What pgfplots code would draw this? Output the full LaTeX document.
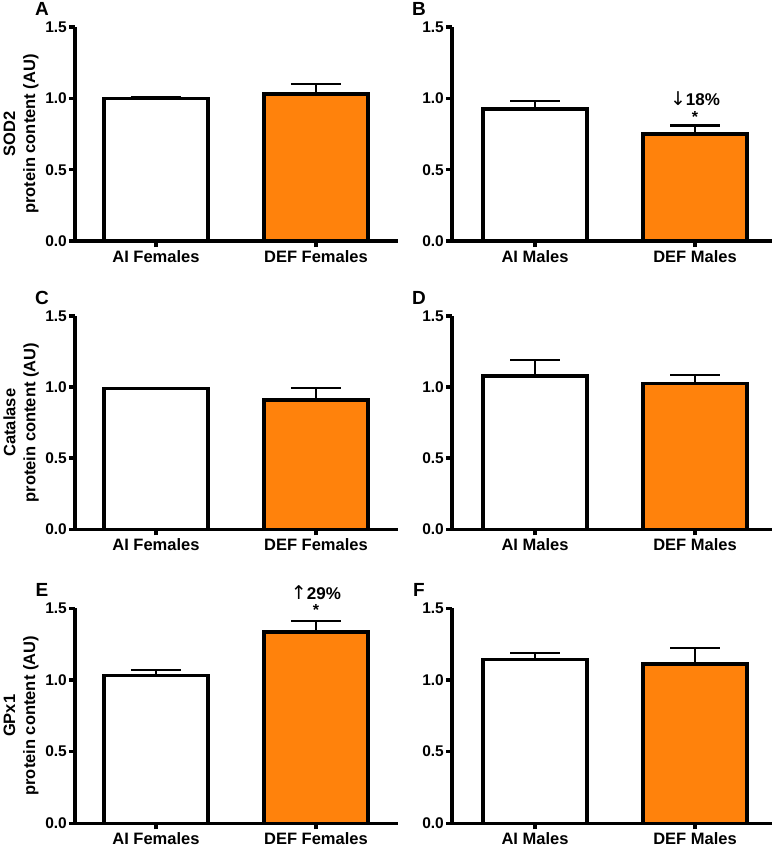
\documentclass[border=0pt]{standalone}
\usepackage{fontspec}
\setmainfont{Liberation Sans}
\newfontfamily\arrowfont{DejaVu Sans}
\usepackage{pgfplots}
\pgfplotsset{compat=1.18}
\definecolor{deforange}{RGB}{255,130,12}

\pgfplotsset{
  panel/.style={
    scale only axis, anchor=south west, clip=false,
    ymin=0, ymax=1.5,
    ytick={0,0.5,1,1.5}, yticklabels={0.0,0.5,1.0,1.5},
    xtick={0,1},
    axis x line*=bottom, axis y line*=left,
    axis line style={-, line width=3.5pt},
    tick style={line width=3.5pt, black},
    tick align=outside, major tick length=6pt,
    y tick label style={font=\bfseries\fontsize{15.5}{17}\selectfont, inner sep=2pt},
    x tick label style={font=\bfseries\fontsize{16.5}{19}\selectfont},
    ylabel style={font=\bfseries\fontsize{16.5}{20}\selectfont, align=center,
      at={(axis description cs:-0.167,0.5)}, anchor=center, rotate=0},
  },
  leftcol/.style={panel, width=323pt, xmin=-0.506, xmax=1.513,
    xticklabels={AI Females, DEF Females}},
  rightcol/.style={panel, width=320pt, xmin=-0.519, xmax=1.481,
    xticklabels={AI Males, DEF Males}},
  bbar/.style={ybar, bar width=0.65, bar shift=0pt, draw=black, line width=3.5pt,
    error bars/y dir=plus, error bars/y explicit,
    error bars/error bar style={line width=2.2pt, black},
    error bars/error mark options={rotate=90, line width=2.2pt, mark size=25pt, black}},
}
\newcommand{\plabel}[1]{\node[font=\bfseries\fontsize{19}{21}\selectfont] at (rel axis cs:0,1) [xshift=-33pt, yshift=18pt] {#1};}

\begin{document}
\begin{tikzpicture}
\useasboundingbox (0,0) rectangle (778pt,-849pt);

% A: SOD2 females
\begin{axis}[leftcol, at={(75pt,-241pt)}, height=214pt,
  ylabel={SOD2\\protein content (AU)}]
\addplot[bbar, fill=white] coordinates {(0,1.00) +- (0,0.01)};
\addplot[bbar, fill=deforange] coordinates {(1,1.03) +- (0,0.07)};
\plabel{A}
\end{axis}

% B: SOD2 males
\begin{axis}[rightcol, at={(452pt,-241pt)}, height=214pt]
\addplot[bbar, fill=white] coordinates {(0,0.925) +- (0,0.055)};
\addplot[bbar, fill=deforange] coordinates {(1,0.75) +- (0,0.06)};
\node[font=\bfseries\fontsize{17}{19}\selectfont] at (axis cs:1,0.995) {{\arrowfont\mdseries\fontsize{19}{21}\selectfont ↓}18\%};
\node[font=\bfseries\fontsize{16}{18}\selectfont] at (axis cs:1,0.87) {*};
\plabel{B}
\end{axis}

% C: Catalase females
\begin{axis}[leftcol, at={(75pt,-529.3pt)}, height=213.3pt,
  ylabel={Catalase\\protein content (AU)}]
\addplot[bbar, fill=white] coordinates {(0,0.99) +- (0,0.006)};
\addplot[bbar, fill=deforange] coordinates {(1,0.91) +- (0,0.085)};
\plabel{C}
\end{axis}

% D: Catalase males
\begin{axis}[rightcol, at={(452pt,-529.3pt)}, height=213.3pt]
\addplot[bbar, fill=white] coordinates {(0,1.078) +- (0,0.112)};
\addplot[bbar, fill=deforange] coordinates {(1,1.027) +- (0,0.056)};
\plabel{D}
\end{axis}

% E: GPx1 females
\begin{axis}[leftcol, at={(75pt,-823.3pt)}, height=215pt,
  ylabel={GPx1\\protein content (AU)}]
\addplot[bbar, fill=white] coordinates {(0,1.03) +- (0,0.04)};
\addplot[bbar, fill=deforange] coordinates {(1,1.333) +- (0,0.081)};
\node[font=\bfseries\fontsize{17}{19}\selectfont] at (axis cs:1,1.607) {{\arrowfont\mdseries\fontsize{19}{21}\selectfont ↑}29\%};
\node[font=\bfseries\fontsize{16}{18}\selectfont] at (axis cs:1,1.485) {*};
\plabel{E}
\end{axis}

% F: GPx1 males
\begin{axis}[rightcol, at={(452pt,-823.3pt)}, height=215pt]
\addplot[bbar, fill=white] coordinates {(0,1.144) +- (0,0.046)};
\addplot[bbar, fill=deforange] coordinates {(1,1.11) +- (0,0.111)};
\plabel{F}
\end{axis}
\end{tikzpicture}
\end{document}
